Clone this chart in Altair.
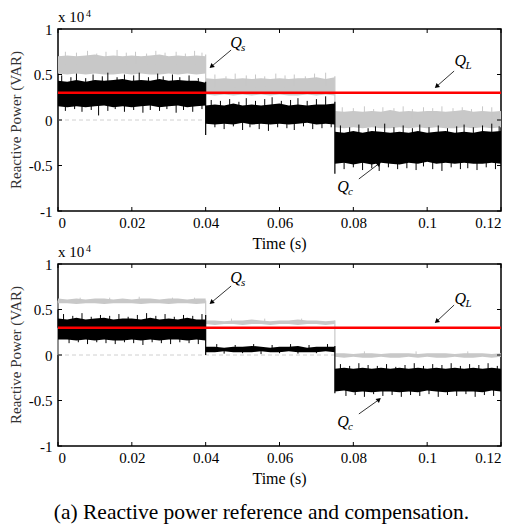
import altair as alt
import pandas as pd

# ---------------- layout constants ----------------
W, H = 443, 182
FONT = "Liberation Serif"

# ---------------- data ----------------
DT = 0.0025
SEG_BOUNDS = [(0.0, 0.04), (0.04, 0.075), (0.075, 0.12)]
XTICKS = [0, 0.02, 0.04, 0.06, 0.08, 0.1, 0.12]
YTICKS = [-1, -0.5, 0, 0.5, 1]
QL_LEVEL = 0.3
ZERO_REF_END = 0.075

# Top panel: envelopes (x 10^4 VAR) of the noisy signals, per segment
P1_QS_HI = ([0.70, 0.71, 0.70, 0.71, 0.72, 0.70, 0.71, 0.70, 0.71, 0.70, 0.71, 0.72, 0.70, 0.71, 0.70, 0.71, 0.70]
            + [0.46, 0.45, 0.46, 0.45, 0.46, 0.45, 0.46, 0.45, 0.46, 0.45, 0.46, 0.46, 0.47, 0.45, 0.47]
            + [0.10, 0.09, 0.10, 0.09, 0.10, 0.09, 0.11, 0.09, 0.10, 0.09, 0.10, 0.10, 0.09, 0.10, 0.11, 0.09, 0.10, 0.09, 0.10])
P1_QS_LO = ([0.51, 0.50, 0.51, 0.50, 0.51, 0.50, 0.50, 0.51, 0.50, 0.51, 0.50, 0.50, 0.51, 0.50, 0.51, 0.50, 0.51]
            + [0.28, 0.27, 0.28, 0.27, 0.28, 0.27, 0.28, 0.27, 0.28, 0.27, 0.27, 0.28, 0.27, 0.28, 0.27]
            + [-0.08, -0.09, -0.08, -0.09, -0.08, -0.09, -0.09, -0.08, -0.09, -0.08, -0.09, -0.08, -0.09, -0.09, -0.08, -0.09, -0.08, -0.09, -0.08])
P1_QC_HI = ([0.43, 0.42, 0.44, 0.42, 0.44, 0.43, 0.44, 0.45, 0.43, 0.44, 0.43, 0.45, 0.43, 0.44, 0.43, 0.43, 0.41]
            + [0.16, 0.17, 0.16, 0.18, 0.16, 0.17, 0.16, 0.17, 0.18, 0.16, 0.17, 0.16, 0.17, 0.17, 0.18]
            + [-0.13, -0.14, -0.12, -0.14, -0.12, -0.13, -0.14, -0.13, -0.14, -0.12, -0.14, -0.13, -0.12, -0.14, -0.13, -0.14, -0.12, -0.13, -0.12])
P1_QC_LO = ([0.15, 0.14, 0.15, 0.14, 0.15, 0.16, 0.14, 0.15, 0.14, 0.15, 0.16, 0.14, 0.15, 0.16, 0.14, 0.15, 0.16]
            + [-0.04, -0.05, -0.04, -0.05, -0.03, -0.05, -0.04, -0.05, -0.04, -0.05, -0.04, -0.03, -0.05, -0.04, -0.05]
            + [-0.48, -0.47, -0.49, -0.47, -0.49, -0.47, -0.48, -0.49, -0.47, -0.48, -0.46, -0.48, -0.47, -0.48, -0.47, -0.48, -0.48, -0.47, -0.48])

# Bottom panel envelopes
P2_QS_HI = ([0.62, 0.61, 0.62, 0.61, 0.62, 0.62, 0.61, 0.62, 0.61, 0.62, 0.62, 0.61, 0.62, 0.62, 0.61, 0.62, 0.62]
            + [0.38, 0.38, 0.37, 0.38, 0.38, 0.39, 0.38, 0.37, 0.38, 0.38, 0.39, 0.38, 0.38, 0.37, 0.38]
            + [0.02, 0.02, 0.01, 0.02, 0.02, 0.01, 0.02, 0.02, 0.02, 0.01, 0.02, 0.02, 0.02, 0.01, 0.02, 0.02, 0.02, 0.01, 0.02])
P2_QS_LO = ([0.57, 0.57, 0.56, 0.57, 0.57, 0.56, 0.57, 0.57, 0.57, 0.56, 0.57, 0.57, 0.56, 0.57, 0.57, 0.56, 0.57]
            + [0.34, 0.33, 0.34, 0.34, 0.33, 0.34, 0.34, 0.33, 0.34, 0.34, 0.33, 0.34, 0.34, 0.33, 0.34]
            + [-0.02, -0.03, -0.02, -0.03, -0.03, -0.02, -0.03, -0.03, -0.02, -0.03, -0.02, -0.03, -0.03, -0.02, -0.03, -0.03, -0.02, -0.03, -0.02])
P2_QC_HI = ([0.40, 0.39, 0.41, 0.39, 0.40, 0.41, 0.39, 0.40, 0.40, 0.39, 0.41, 0.39, 0.40, 0.39, 0.41, 0.39, 0.39]
            + [0.09, 0.09, 0.08, 0.09, 0.09, 0.10, 0.09, 0.08, 0.09, 0.09, 0.10, 0.08, 0.09, 0.09, 0.09]
            + [-0.15, -0.14, -0.15, -0.14, -0.15, -0.14, -0.15, -0.14, -0.15, -0.14, -0.15, -0.14, -0.15, -0.14, -0.15, -0.14, -0.15, -0.14, -0.15])
P2_QC_LO = ([0.17, 0.17, 0.16, 0.17, 0.16, 0.17, 0.16, 0.16, 0.17, 0.16, 0.17, 0.16, 0.17, 0.17, 0.16, 0.17, 0.16]
            + [0.03, 0.03, 0.04, 0.03, 0.03, 0.03, 0.04, 0.03, 0.03, 0.04, 0.03, 0.03, 0.03, 0.04, 0.03]
            + [-0.40, -0.39, -0.41, -0.40, -0.41, -0.40, -0.40, -0.41, -0.40, -0.41, -0.39, -0.40, -0.41, -0.40, -0.40, -0.40, -0.41, -0.39, -0.40])

# Step transitions: (time, from, to)
P1_QS_STEPS = [(0.04, 0.72, 0.28), (0.075, 0.48, -0.08)]
P1_QC_STEPS = [(0.04, 0.42, -0.165), (0.075, 0.20, -0.59)]
P2_QS_STEPS = [(0.0, 0.0, 0.60), (0.04, 0.60, 0.35), (0.075, 0.38, 0.0)]
P2_QC_STEPS = [(0.0, 0.30, 0.50), (0.04, 0.44, 0.0), (0.075, 0.10, -0.42)]

# Noise spike tips sticking out of the band edges: (time, tip value)
P1_QS_TIPS = [(0.002, 0.75), (0.005, 0.74), (0.008, 0.76), (0.0105, 0.73), (0.013, 0.75), (0.016, 0.77),
              (0.0185, 0.74), (0.021, 0.75), (0.024, 0.73), (0.0265, 0.76), (0.029, 0.74), (0.032, 0.75),
              (0.0345, 0.73), (0.037, 0.76), (0.039, 0.74),
              (0.0425, 0.50), (0.0455, 0.48), (0.048, 0.51), (0.051, 0.49), (0.0535, 0.50), (0.056, 0.48),
              (0.059, 0.51), (0.0615, 0.49), (0.064, 0.50), (0.067, 0.48), (0.0695, 0.51), (0.0725, 0.52),
              (0.077, 0.14), (0.080, 0.13), (0.083, 0.15), (0.0855, 0.12), (0.088, 0.14), (0.091, 0.13),
              (0.0935, 0.15), (0.096, 0.12), (0.099, 0.14), (0.1015, 0.13), (0.104, 0.15), (0.107, 0.13),
              (0.1095, 0.14), (0.112, 0.12), (0.115, 0.15), (0.1175, 0.14)]
P1_QC_TIPS = [(0.001, 0.49), (0.0035, 0.47), (0.005, 0.51), (0.0075, 0.46), (0.0095, 0.50), (0.012, 0.48),
              (0.0135, 0.52), (0.016, 0.47), (0.018, 0.50), (0.0205, 0.49), (0.022, 0.52), (0.0245, 0.47),
              (0.027, 0.51), (0.0285, 0.48), (0.031, 0.50), (0.033, 0.47), (0.0355, 0.49), (0.038, 0.46),
              (0.002, 0.10), (0.0045, 0.12), (0.0065, 0.09), (0.009, 0.11), (0.011, 0.05), (0.0135, 0.10),
              (0.0155, 0.12), (0.018, 0.09), (0.0205, 0.11), (0.023, 0.08), (0.025, 0.11), (0.0275, 0.10),
              (0.0295, 0.12), (0.032, 0.08), (0.034, 0.11), (0.0365, 0.09), (0.039, 0.12),
              (0.0415, 0.22), (0.044, 0.21), (0.0465, 0.23), (0.049, 0.20), (0.051, 0.24), (0.0535, 0.21),
              (0.056, 0.23), (0.058, 0.25), (0.0605, 0.21), (0.063, 0.22), (0.065, 0.24), (0.0675, 0.21),
              (0.070, 0.23), (0.0725, 0.26),
              (0.0425, -0.08), (0.045, -0.10), (0.0475, -0.07), (0.050, -0.11), (0.052, -0.08), (0.0545, -0.10),
              (0.057, -0.12), (0.0595, -0.08), (0.062, -0.09), (0.064, -0.11), (0.0665, -0.07), (0.069, -0.10),
              (0.0715, -0.09), (0.074, -0.08),
              (0.0765, -0.06), (0.079, -0.08), (0.0815, -0.05), (0.084, -0.09), (0.086, -0.07), (0.0885, -0.04),
              (0.091, -0.08), (0.0935, -0.06), (0.096, -0.09), (0.098, -0.05), (0.1005, -0.08), (0.103, -0.06),
              (0.1055, -0.09), (0.108, -0.07), (0.110, -0.05), (0.1125, -0.08), (0.115, -0.06), (0.1175, -0.04),
              (0.1195, -0.07),
              (0.0775, -0.54), (0.080, -0.52), (0.0825, -0.55), (0.085, -0.53), (0.087, -0.56), (0.0895, -0.52),
              (0.092, -0.54), (0.0945, -0.53), (0.097, -0.55), (0.099, -0.51), (0.1015, -0.54), (0.104, -0.56),
              (0.1065, -0.52), (0.109, -0.54), (0.111, -0.53), (0.1135, -0.55), (0.116, -0.52), (0.1185, -0.54)]
P2_QS_TIPS = [(0.006, 0.63), (0.014, 0.63), (0.022, 0.64), (0.031, 0.63), (0.037, 0.63),
              (0.047, 0.40), (0.056, 0.40), (0.066, 0.40), (0.083, 0.04), (0.097, 0.04), (0.111, 0.04)]
P2_QC_TIPS = [(0.0015, 0.45), (0.004, 0.43), (0.0065, 0.46), (0.009, 0.42), (0.0115, 0.44), (0.014, 0.43),
              (0.0165, 0.45), (0.019, 0.42), (0.0215, 0.44), (0.024, 0.46), (0.0265, 0.43), (0.029, 0.45),
              (0.0315, 0.42), (0.034, 0.44), (0.0365, 0.43), (0.039, 0.45),
              (0.003, 0.13), (0.0055, 0.14), (0.008, 0.12), (0.0105, 0.14), (0.013, 0.13), (0.0155, 0.12),
              (0.018, 0.14), (0.0205, 0.13), (0.023, 0.11), (0.0255, 0.14), (0.028, 0.13), (0.0305, 0.12),
              (0.033, 0.14), (0.0355, 0.13), (0.038, 0.12),
              (0.043, 0.12), (0.048, 0.11), (0.053, 0.12), (0.058, 0.11), (0.063, 0.12), (0.068, 0.11), (0.073, 0.12),
              (0.045, 0.015), (0.050, 0.02), (0.055, 0.01), (0.060, 0.02), (0.065, 0.015), (0.070, 0.02),
              (0.0765, -0.10), (0.079, -0.12), (0.0815, -0.09), (0.084, -0.11), (0.0865, -0.12), (0.089, -0.10),
              (0.0915, -0.13), (0.094, -0.11), (0.0965, -0.09), (0.099, -0.12), (0.1015, -0.10), (0.104, -0.11),
              (0.1065, -0.09), (0.109, -0.12), (0.1115, -0.10), (0.114, -0.11), (0.1165, -0.09), (0.119, -0.12),
              (0.078, -0.45), (0.0805, -0.44), (0.083, -0.46), (0.0855, -0.43), (0.088, -0.45), (0.0905, -0.44),
              (0.093, -0.46), (0.0955, -0.44), (0.098, -0.45), (0.1005, -0.43), (0.103, -0.46), (0.1055, -0.44),
              (0.108, -0.45), (0.1105, -0.43), (0.113, -0.46), (0.1155, -0.44), (0.118, -0.45)]

# Annotations
ANN_SUB = ["s", "L", "c"]
ANN_T = [0.0482, 0.1090, 0.0772]
P1_ANN_V = [0.846, 0.648, -0.736]
P2_ANN_V = [0.846, 0.615, -0.736]
ARR_T0 = [0.0469, 0.1073, 0.0815]
ARR_T1 = [0.0417, 0.1027, 0.0868]
P1_ARR_V0 = [0.769, 0.538, -0.648]
P1_ARR_V1 = [0.593, 0.374, -0.484]
P2_ARR_V0 = [0.758, 0.549, -0.648]
P2_ARR_V1 = [0.582, 0.374, -0.495]
ARR_ANGLE = [230, 229, 50]

CAPTION = "(a) Reactive power reference and compensation."


# ---------------- helpers ----------------
def seg_times():
    out = []
    for k, (a, b) in enumerate(SEG_BOUNDS):
        n = int(round((b - a) / DT)) + 1
        for i in range(n):
            out.append((k, round(a + i * DT, 6)))
    return out


def band_df(hi, lo):
    st = seg_times()
    return pd.DataFrame({"seg": [s for s, _ in st], "t": [t for _, t in st],
                         "hi": hi, "lo": lo})


def step_df(spk):
    return pd.DataFrame({"t": [s[0] for s in spk], "y1": [s[1] for s in spk],
                         "y2": [s[2] for s in spk]})


def tips_df(hi, lo, tips):
    """Spike from the band's centre (at nearest sample of the same segment) to the tip."""
    st = seg_times()
    rows = []
    for t, tip in tips:
        seg = 0 if t < SEG_BOUNDS[0][1] else (1 if t < SEG_BOUNDS[1][1] else 2)
        best = min((abs(tt - t), i) for i, (s, tt) in enumerate(st) if s == seg)[1]
        rows.append({"t": t, "y1": (hi[best] + lo[best]) / 2, "y2": tip})
    return pd.DataFrame(rows)


xscale = alt.Scale(domain=[0, 0.12], nice=False, zero=False)
yscale = alt.Scale(domain=[-1, 1], nice=False, zero=False)

xaxis = alt.Axis(values=XTICKS, labelExpr="'' + datum.value", title=None, grid=False,
                 ticks=False, domain=False, labelFont=FONT, labelFontSize=15,
                 labelColor="black", labelPadding=4)
yaxis = alt.Axis(values=YTICKS, labelExpr="'' + datum.value", title=None, grid=False,
                 ticks=False, domain=False, labelFont=FONT, labelFontSize=15,
                 labelColor="black", labelPadding=6)


def panel(qs_hi, qs_lo, qc_hi, qc_lo, qs_steps, qc_steps, qs_tips, qc_tips,
          ann_v, arr_v0, arr_v1, caption=False):
    gray = "#c8c8c8"
    qs = alt.Chart(band_df(qs_hi, qs_lo)).mark_area(color=gray, opacity=1, interpolate="linear").encode(
        x=alt.X("t:Q", scale=xscale, axis=xaxis),
        y=alt.Y("hi:Q", scale=yscale, axis=yaxis),
        y2="lo:Q",
        detail="seg:N",
    )
    qs_s = alt.Chart(step_df(qs_steps)).mark_rule(color=gray, strokeWidth=1.2).encode(
        x="t:Q", y="y1:Q", y2="y2:Q")
    qs_t = alt.Chart(tips_df(qs_hi, qs_lo, qs_tips)).mark_rule(color=gray, strokeWidth=1).encode(
        x="t:Q", y="y1:Q", y2="y2:Q")
    zero = alt.Chart(pd.DataFrame({"t0": [0.0], "t1": [ZERO_REF_END], "v": [0.0]})).mark_rule(
        color="#d0d0d0", strokeWidth=1, strokeDash=[4, 3]).encode(x="t0:Q", x2="t1:Q", y="v:Q")
    qc = alt.Chart(band_df(qc_hi, qc_lo)).mark_area(color="black", opacity=1, interpolate="linear").encode(
        x="t:Q", y="hi:Q", y2="lo:Q", detail="seg:N")
    qc_s = alt.Chart(step_df(qc_steps)).mark_rule(color="black", strokeWidth=1.2).encode(
        x="t:Q", y="y1:Q", y2="y2:Q")
    qc_t = alt.Chart(tips_df(qc_hi, qc_lo, qc_tips)).mark_rule(color="black", strokeWidth=1).encode(
        x="t:Q", y="y1:Q", y2="y2:Q")
    ql = alt.Chart(pd.DataFrame({"t0": [0.0], "t1": [0.12], "v": [QL_LEVEL]})).mark_rule(
        color="#ff0000", strokeWidth=2.5).encode(x="t0:Q", x2="t1:Q", y="v:Q")

    # inward ticks on all four sides
    xt = pd.DataFrame({"t": XTICKS})
    yt = pd.DataFrame({"v": YTICKS})
    tk = dict(color="black", strokeWidth=1)
    tb = alt.Chart(xt).mark_rule(**tk).encode(x="t:Q", y=alt.value(H), y2=alt.value(H - 4))
    tt = alt.Chart(xt).mark_rule(**tk).encode(x="t:Q", y=alt.value(0), y2=alt.value(4))
    tl = alt.Chart(yt).mark_rule(**tk).encode(y="v:Q", x=alt.value(0), x2=alt.value(4))
    tr = alt.Chart(yt).mark_rule(**tk).encode(y="v:Q", x=alt.value(W - 4), x2=alt.value(W))

    ann = pd.DataFrame({"t": ANN_T, "v": ann_v, "q": ["Q"] * 3, "sub": ANN_SUB})
    qtxt = alt.Chart(ann).mark_text(font=FONT, fontSize=16, fontStyle="italic", align="center",
                                    baseline="middle", color="black").encode(x="t:Q", y="v:Q", text="q:N")
    stxt = alt.Chart(ann).mark_text(font=FONT, fontSize=11, fontStyle="italic", align="left",
                                    baseline="middle", dx=5, dy=5, color="black").encode(
        x="t:Q", y="v:Q", text="sub:N")
    arr = pd.DataFrame({"t0": ARR_T0, "t1": ARR_T1, "v0": arr_v0, "v1": arr_v1, "ang": ARR_ANGLE})
    aline = alt.Chart(arr).mark_rule(color="black", strokeWidth=0.8).encode(
        x="t0:Q", x2="t1:Q", y="v0:Q", y2="v1:Q")
    ahead = alt.Chart(arr).mark_point(shape="triangle", filled=True, color="black", size=28,
                                      opacity=1).encode(
        x="t1:Q", y="v1:Q", angle=alt.Angle("ang:Q", scale=None))

    # "x 10^4" multiplier and axis titles
    mult = alt.Chart(pd.DataFrame({"s": ["x 10"]})).mark_text(
        font=FONT, fontSize=15, align="left", baseline="alphabetic", color="black").encode(
        x=alt.value(0), y=alt.value(-7), text="s:N")
    sup = alt.Chart(pd.DataFrame({"s": ["4"]})).mark_text(
        font=FONT, fontSize=10, align="left", baseline="alphabetic", color="black").encode(
        x=alt.value(28), y=alt.value(-12), text="s:N")
    xtitle = alt.Chart(pd.DataFrame({"s": ["Time (s)"]})).mark_text(
        font=FONT, fontSize=16, align="center", baseline="alphabetic", color="black").encode(
        x=alt.value(W / 2), y=alt.value(H + 38), text="s:N")
    ytitle = alt.Chart(pd.DataFrame({"s": ["Reactive Power (VAR)"]})).mark_text(
        font=FONT, fontSize=15, align="center", baseline="middle", angle=270, color="#333333").encode(
        x=alt.value(-42), y=alt.value(H / 2), text="s:N")

    layers = [qs, qs_s, qs_t, zero, qc, qc_s, qc_t, ql, tb, tt, tl, tr, aline, ahead, qtxt, stxt,
              mult, sup, xtitle, ytitle]
    if caption:
        cap = alt.Chart(pd.DataFrame({"s": [CAPTION]})).mark_text(
            font=FONT, fontSize=21.5, align="center", baseline="alphabetic", color="black").encode(
            x=alt.value(203.5), y=alt.value(H + 73), text="s:N")
        layers.append(cap)
    return alt.layer(*layers).properties(width=W, height=H)


top = panel(P1_QS_HI, P1_QS_LO, P1_QC_HI, P1_QC_LO, P1_QS_STEPS, P1_QC_STEPS, P1_QS_TIPS, P1_QC_TIPS,
            P1_ANN_V, P1_ARR_V0, P1_ARR_V1)
bot = panel(P2_QS_HI, P2_QS_LO, P2_QC_HI, P2_QC_LO, P2_QS_STEPS, P2_QC_STEPS, P2_QS_TIPS, P2_QC_TIPS,
            P2_ANN_V, P2_ARR_V0, P2_ARR_V1, caption=True)

chart = alt.vconcat(top, bot, spacing=53, bounds="flush").properties(
    padding={"left": 0, "top": 0, "right": 0, "bottom": 0},
    background="white",
).configure_view(stroke="black", strokeWidth=1.5)

chart.save("out.html", embed_options={"renderer": "svg", "actions": False})
